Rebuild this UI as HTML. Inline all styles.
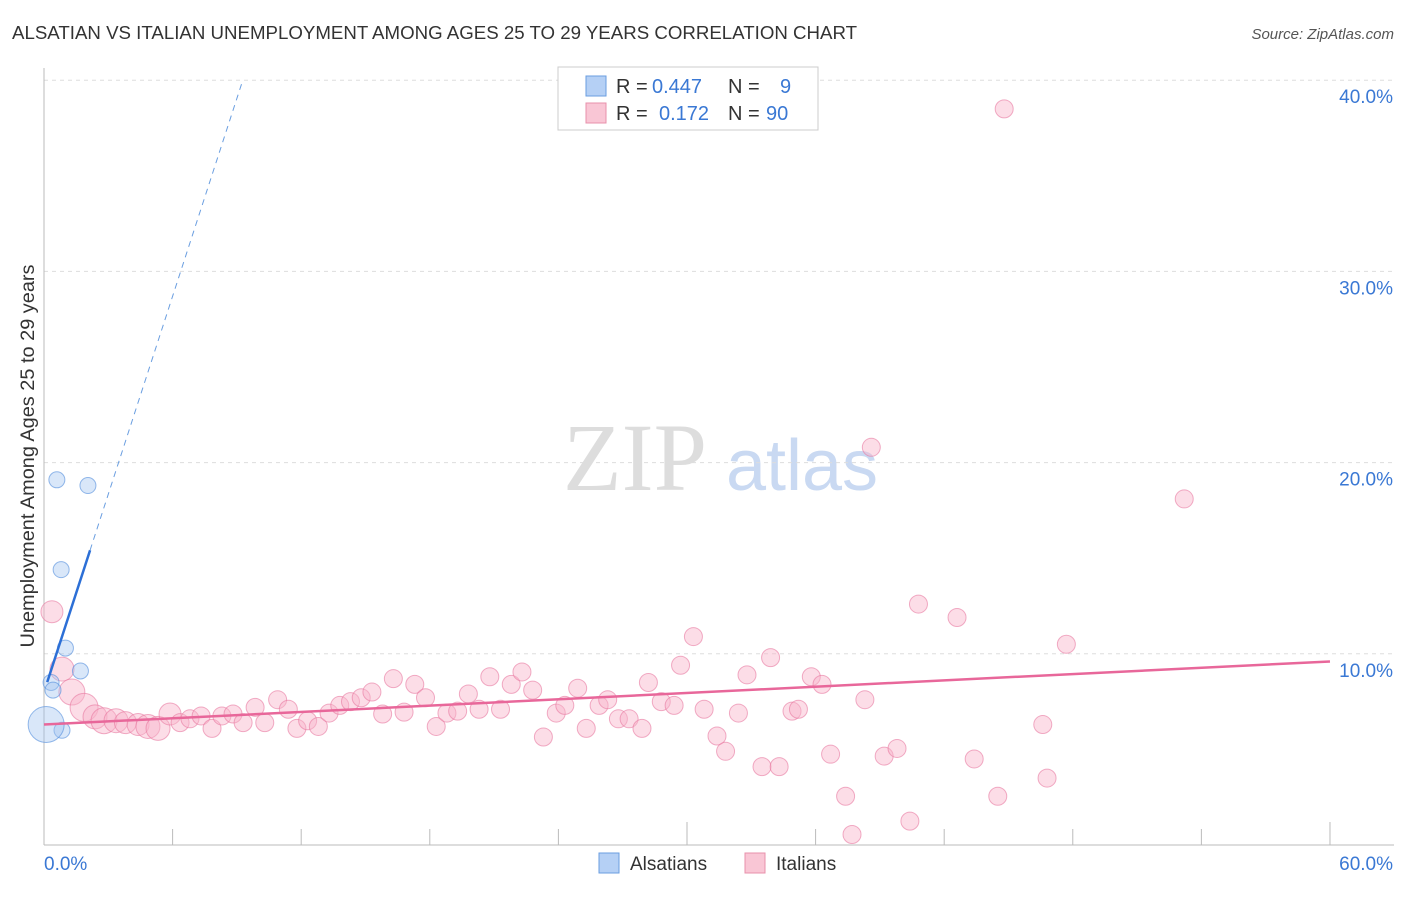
<!DOCTYPE html>
<html><head><meta charset="utf-8"><style>
body{margin:0;background:#fff;font-family:"Liberation Sans",sans-serif;}
svg text{font-family:"Liberation Sans",sans-serif;}
</style></head><body>
<svg id="chart" width="1406" height="892">
<text x="12" y="39" font-size="18" fill="#333" textLength="845" lengthAdjust="spacingAndGlyphs">ALSATIAN VS ITALIAN UNEMPLOYMENT AMONG AGES 25 TO 29 YEARS CORRELATION CHART</text>
<text x="1394" y="39" font-size="15" fill="#555" font-style="italic" text-anchor="end">Source: ZipAtlas.com</text>
<g>
<text x="635" y="490" font-size="96" fill="#ddd" text-anchor="middle" font-family="Liberation Serif" style="font-family:'Liberation Serif',serif">ZIP</text>
<text x="802" y="490" font-size="72" fill="#c9d9f2" text-anchor="middle">atlas</text>
</g>
<g id="grid"></g>
<g id="axes"></g>
<g id="marks"></g>
<text transform="translate(34,456) rotate(-90)" font-size="19" fill="#333" text-anchor="middle" textLength="383" lengthAdjust="spacingAndGlyphs">Unemployment Among Ages 25 to 29 years</text>
<g>
<rect x="558" y="67" width="260" height="63" fill="#fff" stroke="#ccc"/>
<rect x="586" y="76" width="20" height="20" fill="#b5d0f5" stroke="#6a9ee0"/>
<rect x="586" y="103" width="20" height="20" fill="#f9c6d5" stroke="#e890ab"/>
<text x="616" y="93" font-size="20" fill="#333">R = <tspan x="652" fill="#3a78d4">0.447</tspan><tspan x="728">N = </tspan><tspan x="780" fill="#3a78d4">9</tspan></text>
<text x="616" y="120" font-size="20" fill="#333">R = <tspan x="659" fill="#3a78d4">0.172</tspan><tspan x="728">N = </tspan><tspan x="766" fill="#3a78d4">90</tspan></text>
</g>
<g>
<rect x="599" y="853" width="20" height="20" fill="#b5d0f5" stroke="#6a9ee0"/>
<text x="630" y="870" font-size="19" fill="#333">Alsatians</text>
<rect x="745" y="853" width="20" height="20" fill="#f9c6d5" stroke="#e890ab"/>
<text x="776" y="870" font-size="19" fill="#333">Italians</text>
</g>
</svg>
<script>
const yTicks=[10,20,30,40];
const yTickLabels=["10.0%","20.0%","30.0%","40.0%"];
const alsX=[0.6,2.05,0.8,1.0,1.7,0.33,0.42,0.84,0.1];
const alsY=[19.1,18.8,14.4,10.3,9.1,8.5,8.1,6.0,6.3];
const alsR=[8,8,8,8,8,8,8,8,18];
const itaX=[0.37,0.84,1.3,1.87,2.38,2.8,3.36,3.8,4.39,4.85,5.32,5.88,6.35,6.81,7.33,7.84,8.3,8.82,9.29,9.85,10.3,10.9,11.4,11.8,12.3,12.8,13.3,13.8,14.3,14.8,15.3,15.8,16.3,16.8,17.3,17.8,18.3,18.8,19.3,19.8,20.3,20.8,21.3,21.8,22.3,22.8,23.3,23.9,24.3,24.9,25.3,25.9,26.3,26.8,27.3,27.9,28.2,28.8,29.4,29.7,30.3,30.8,31.4,31.8,32.4,32.8,33.5,33.9,34.3,34.9,35.2,35.8,36.3,36.7,37.4,37.7,38.3,38.6,39.2,39.8,40.4,40.8,42.6,43.4,44.5,44.8,46.6,46.8,47.7,53.2];
const itaY=[12.2,9.2,8.0,7.2,6.7,6.5,6.5,6.4,6.3,6.2,6.1,6.85,6.4,6.6,6.75,6.1,6.75,6.85,6.4,7.2,6.4,7.6,7.1,6.1,6.5,6.2,6.9,7.3,7.5,7.7,8.0,6.85,8.7,6.95,8.4,7.7,6.2,6.9,7.0,7.9,7.1,8.8,7.1,8.4,9.05,8.1,5.65,6.9,7.3,8.2,6.1,7.3,7.6,6.6,6.6,6.1,8.5,7.5,7.3,9.4,10.9,7.1,5.7,4.9,6.9,8.9,4.1,9.8,4.1,7.0,7.1,8.8,8.4,4.75,2.55,0.55,7.6,20.8,4.65,5.05,1.25,12.6,11.9,4.5,2.55,38.5,6.3,3.5,10.5,18.1];
const itaR=[11,12,13,14,12,13,12,11,11,12,12,11];
const alsFit=[8.0,3.45];
const itaFit=[6.3,0.055];
const NS="http://www.w3.org/2000/svg";
const X=v=>44+v*21.433, Y=v=>845-v*19.12;
function mk(p,t,a){const e=document.createElementNS(NS,t);for(const k in a)e.setAttribute(k,a[k]);document.getElementById(p).appendChild(e);return e;}
yTicks.forEach((t,i)=>{
 const g=mk('grid','line',{x1:44,x2:1394,y1:Y(t),y2:Y(t),stroke:'#ddd','stroke-dasharray':'4,4'});
 
 
 const l=mk('axes','text',{x:1393,y:Y(t)+23,'font-size':19,fill:'#3a78d4','text-anchor':'end'});
 l.textContent=yTickLabels[i];
 
 
});
const yl=mk('axes','line',{x1:44,x2:44,y1:68,y2:845,stroke:'#bbb'});


const xl=mk('axes','line',{x1:44,x2:1394,y1:845,y2:845,stroke:'#bbb'});


for(let i=0;i<=10;i++){const v=i*6;const tk=mk('axes','line',{x1:X(v),x2:X(v),y1:(i%5==0?822:829),y2:845,stroke:'#bbb'});
 
 }
const x0=mk('axes','text',{x:44,y:870,'font-size':19,fill:'#3a78d4'});x0.textContent='0.0%';


const x1=mk('axes','text',{x:1393,y:870,'font-size':19,fill:'#3a78d4','text-anchor':'end'});x1.textContent='60.0%';


itaX.forEach((x,i)=>{const c=mk('marks','circle',{cx:X(x),cy:Y(itaY[i]),r:itaR[i]||9,fill:'rgba(248,180,202,0.45)',stroke:'rgba(232,120,160,0.6)','stroke-width':1});
 
 });
alsX.forEach((x,i)=>{const c=mk('marks','circle',{cx:X(x),cy:Y(alsY[i]),r:alsR[i],fill:'rgba(160,195,240,0.4)',stroke:'rgba(80,140,220,0.6)','stroke-width':1});
 
 });
const il=mk('marks','line',{x1:X(0),y1:Y(itaFit[0]),x2:X(60),y2:Y(itaFit[0]+60*itaFit[1]),stroke:'#e8679a','stroke-width':2.5});


const xe=2.15, xd=(40-alsFit[0])/alsFit[1];
const bl=mk('marks','line',{x1:X(0.15),y1:Y(alsFit[0]+0.15*alsFit[1]),x2:X(xe),y2:Y(alsFit[0]+xe*alsFit[1]),stroke:'#2c6fd6','stroke-width':2.5});


const bd=mk('marks','line',{x1:X(xe),y1:Y(alsFit[0]+xe*alsFit[1]),x2:X(xd),y2:Y(alsFit[0]+xd*alsFit[1]),stroke:'#6a9ee0','stroke-width':1,'stroke-dasharray':'6,5'});


</script>
</body></html>
